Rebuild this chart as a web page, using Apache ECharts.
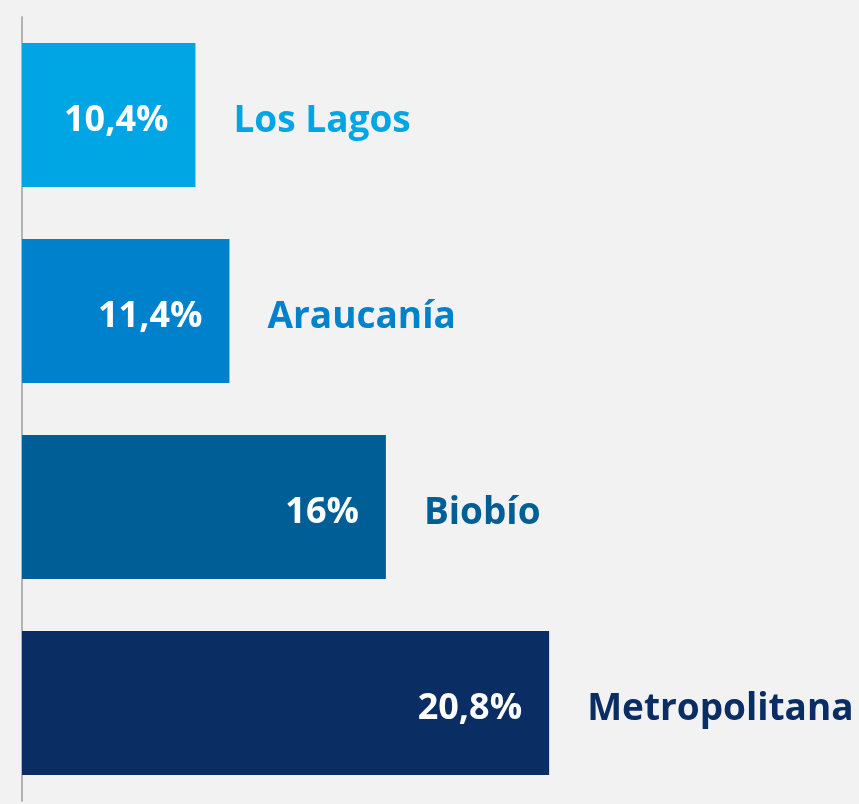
<!DOCTYPE html>
<html>
<head>
<meta charset="utf-8">
<script src="https://cdn.jsdelivr.net/npm/echarts@6/dist/echarts.min.js"></script>
<style>
  html, body { margin: 0; padding: 0; background: #f2f2f2; }
  #chart { width: 859px; height: 804px; }
</style>
</head>
<body>
<div id="chart"></div>
<script>
const regions = ['Los Lagos', 'Araucanía', 'Biobío', 'Metropolitana'];
const shares = [10.4, 11.4, 16, 20.8];
const barColors = ['#00a6e3', '#0081cc', '#005e96', '#0a2d64'];

const chart = echarts.init(document.getElementById('chart'));

const fmt = v => String(v).replace('.', ',') + '%';
const font = '"Open Sans", "Noto Sans", sans-serif';

chart.setOption({
  backgroundColor: '#f2f2f2',
  animation: false,
  grid: { left: 22, right: 65, top: 17, bottom: 3 },
  xAxis: {
    type: 'value',
    min: 5.3,
    max: 28,
    show: false
  },
  yAxis: {
    type: 'category',
    data: regions,
    inverse: true,
    axisLine: { show: true, lineStyle: { color: '#b3b3b3', width: 2 } },
    axisTick: { show: false },
    axisLabel: { show: false }
  },
  series: [
    {
      // visible bars, value inside
      type: 'bar',
      barWidth: 144,
      data: shares.map((v, i) => ({ value: v, itemStyle: { color: barColors[i] } })),
      label: {
        show: true,
        position: 'insideRight',
        distance: 27,
        offset: [0, 6],
        color: '#fff',
        fontFamily: font,
        fontWeight: 'bold',
        fontSize: 36,
        formatter: p => fmt(p.value)
      },
      z: 2
    },
    {
      // transparent copy, carries the region name to the right
      type: 'bar',
      barWidth: 144,
      barGap: '-100%',
      silent: true,
      data: shares.map((v, i) => ({
        value: v,
        label: { color: barColors[i] }
      })),
      itemStyle: { color: 'transparent' },
      label: {
        show: true,
        position: 'right',
        distance: 38,
        offset: [0, 6],
        fontFamily: font,
        fontWeight: 'bold',
        fontSize: 37,
        formatter: p => regions[p.dataIndex]
      },
      z: 3
    }
  ]
});
</script>
</body>
</html>
